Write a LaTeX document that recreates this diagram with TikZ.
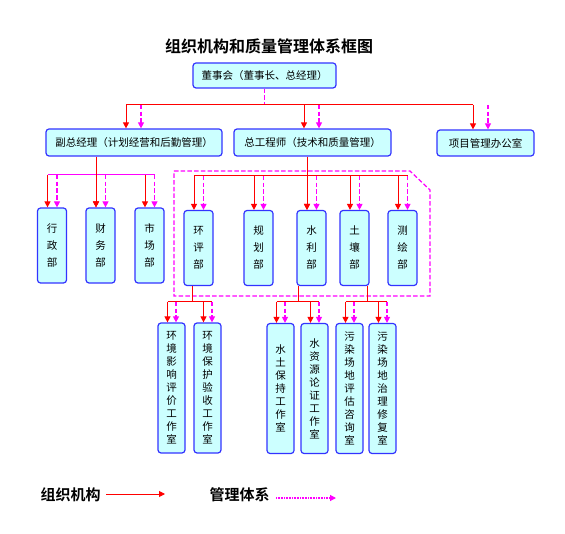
\documentclass[tikz,border=0pt]{standalone}
\usepackage{fontspec}
\setmainfont{Noto Sans CJK SC}[BoldFont={Noto Sans CJK SC Bold}]
\usetikzlibrary{arrows.meta}
\definecolor{boxFill}{HTML}{CCFFFF}
\definecolor{boxLine}{HTML}{3333FF}
\definecolor{orgRed}{HTML}{FF0000}
\definecolor{mgmtPink}{HTML}{FF00FF}
\tikzset{
  unitBox/.style={draw=boxLine, fill=boxFill, line width=1.2pt, rounded corners=3pt, inner sep=0pt, align=center, font=\fontsize{10.5}{13}\selectfont},
  deptBox/.style={unitBox, minimum width=29pt, minimum height=75pt, font=\fontsize{10.5}{17}\selectfont},
  roomBox/.style={unitBox, minimum width=27pt, minimum height=130pt, font=\fontsize{10.5}{13}\selectfont},
  orgLine/.style={orgRed, line width=1pt},
  mgmtLine/.style={mgmtPink, line width=1.2pt, dash pattern=on 4.5pt off 2.2pt},
  orgArrow/.style={orgLine, -{Triangle[length=6pt,width=6pt]}},
  mgmtArrow/.style={mgmtLine, -{Triangle[length=6pt,width=6pt]}},
  legendText/.style={font=\fontsize{15}{15}\selectfont\bfseries, anchor=west}
}
% red and pink arrow pair into a box, #2 bus, #3 #4 shifts
\newcommand{\inArrows}[4]{%
  \draw[orgArrow] ([xshift=#3]#1.north |- #2) -- ([xshift=#3]#1.north);
  \draw[mgmtArrow] ([xshift=#4]#1.north |- #2) -- ([xshift=#4]#1.north);}

\begin{document}
\begin{tikzpicture}[x=1pt, y=-1pt]

    % page
    \useasboundingbox (0,0) rectangle (565,534);

    % title
    \node[font=\fontsize{16}{16}\selectfont\bfseries] (title) at (269,46) {组织机构和质量管理体系框图};

    % board
    \node[unitBox, minimum width=143pt, minimum height=25pt] (board) at (264.5,75.5) {董事会（董事长、总经理）};

    % second row
    \node[unitBox, minimum width=176pt, minimum height=27pt] (deputy) at (134,142.5) {副总经理（计划经营和后勤管理）};
    \node[unitBox, minimum width=157pt, minimum height=27pt] (chiefEng) at (312.5,142.5) {总工程师（技术和质量管理）};
    \node[unitBox, minimum width=97pt, minimum height=26pt] (projOffice) at (485.5,143) {项目管理办公室};

    % departments
    \node[deptBox] (admin) at (52,245.5) {行\\政\\部};
    \node[deptBox] (finance) at (100.5,245.5) {财\\务\\部};
    \node[deptBox] (market) at (149.5,245.5) {市\\场\\部};
    \node[deptBox] (envAssess) at (198.5,248) {环\\评\\部};
    \node[deptBox] (planning) at (258.5,248) {规\\划\\部};
    \node[deptBox] (waterCons) at (311.5,248) {水\\利\\部};
    \node[deptBox] (soil) at (354.5,248) {土\\壤\\部};
    \node[deptBox] (survey) at (402.5,248) {测\\绘\\部};

    % studios
    \node[roomBox] (eiaRoom) at (171.5,388) {环\\境\\影\\响\\评\\价\\工\\作\\室};
    \node[roomBox] (acceptRoom) at (207.5,388) {环\\境\\保\\护\\验\\收\\工\\作\\室};
    \node[roomBox] (soilWaterRoom) at (280.5,388.5) {水\\土\\保\\持\\工\\作\\室};
    \node[roomBox] (waterResRoom) at (314.5,388.5) {水\\资\\源\\论\\证\\工\\作\\室};
    \node[roomBox] (siteAssessRoom) at (349.5,388.5) {污\\染\\场\\地\\评\\估\\咨\\询\\室};
    \node[roomBox] (siteRepairRoom) at (382.5,388.5) {污\\染\\场\\地\\治\\理\\修\\复\\室};

    % quality system frame
    \draw[mgmtLine] (174,171) -- (410,171) -- (430,190) -- (430,296) -- (174,296) -- cycle;

    % board to second row
    \coordinate (busTop) at (0,105);
    \draw[mgmtLine] (board.south) -- (board.south |- busTop);
    \draw[orgLine] ([xshift=-8pt]deputy.north |- busTop) -- ([xshift=-12.5pt]projOffice.north |- busTop);
    \inArrows{deputy}{busTop}{-8pt}{7pt}
    \inArrows{chiefEng}{busTop}{-8.5pt}{6.5pt}
    \inArrows{projOffice}{busTop}{-12.5pt}{2.5pt}

    % deputy to departments
    \coordinate (busDeputy) at (0,175);
    \draw[mgmtPink, line width=1pt] ([xshift=-4.5pt]admin.north |- busDeputy) -- ([xshift=5pt]market.north |- busDeputy);
    \draw[orgArrow] ([xshift=-4.5pt]finance.north |- deputy.south) -- ([xshift=-4.5pt]finance.north);
    \inArrows{admin}{busDeputy}{-4.5pt}{5pt}
    \inArrows{finance}{busDeputy}{-4.5pt}{5pt}
    \inArrows{market}{busDeputy}{-4.5pt}{5pt}

    % chief engineer to departments
    \coordinate (busChief) at (0,176);
    \draw[orgLine] ([xshift=-4.5pt]envAssess.north |- busChief) -- ([xshift=5pt]survey.north |- busChief);
    \draw[orgArrow] ([xshift=-4.5pt]waterCons.north |- chiefEng.south) -- ([xshift=-4.5pt]waterCons.north);
    \inArrows{envAssess}{busChief}{-4.5pt}{5pt}
    \inArrows{planning}{busChief}{-4.5pt}{5pt}
    \inArrows{waterCons}{busChief}{-4.5pt}{5pt}
    \inArrows{soil}{busChief}{-4.5pt}{5pt}
    \inArrows{survey}{busChief}{-4.5pt}{5pt}

    % departments to studios
    \coordinate (busRoom) at (0,302);
    \draw[orgLine] ([xshift=-6.5pt]envAssess.south) -- ([xshift=-6.5pt]envAssess.south |- busRoom);
    \draw[orgLine] ([xshift=-4pt]eiaRoom.north |- busRoom) -- ([xshift=4.5pt]acceptRoom.north |- busRoom);
    \inArrows{eiaRoom}{busRoom}{-4pt}{4.5pt}
    \inArrows{acceptRoom}{busRoom}{-4pt}{4.5pt}

    \draw[orgLine] ([xshift=-13.5pt]waterCons.south) -- ([xshift=-13.5pt]waterCons.south |- busRoom);
    \draw[orgLine] ([xshift=-4pt]soilWaterRoom.north |- busRoom) -- ([xshift=4.5pt]waterResRoom.north |- busRoom);
    \inArrows{soilWaterRoom}{busRoom}{-4pt}{4.5pt}
    \inArrows{waterResRoom}{busRoom}{-4pt}{4.5pt}

    \draw[orgLine] ([xshift=12.5pt]soil.south) -- ([xshift=12.5pt]soil.south |- busRoom);
    \draw[orgLine] ([xshift=-4pt]siteAssessRoom.north |- busRoom) -- ([xshift=4.5pt]siteRepairRoom.north |- busRoom);
    \inArrows{siteAssessRoom}{busRoom}{-4pt}{4.5pt}
    \inArrows{siteRepairRoom}{busRoom}{-4pt}{4.5pt}

    % legend
    \node[legendText] (legendOrg) at (37,495) {组织机构};
    \coordinate (legendOrgEnd) at (165,494);
    \draw[orgArrow] ([xshift=2pt]legendOrg.east |- legendOrgEnd) -- (legendOrgEnd);
    \node[legendText] (legendMgmt) at (206,495) {管理体系};
    \coordinate (legendMgmtEnd) at (336,498);
    \draw[mgmtArrow, dash pattern=on 1pt off 0.6pt] ([xshift=3pt]legendMgmt.east |- legendMgmtEnd) -- (legendMgmtEnd);

\end{tikzpicture}
\end{document}
